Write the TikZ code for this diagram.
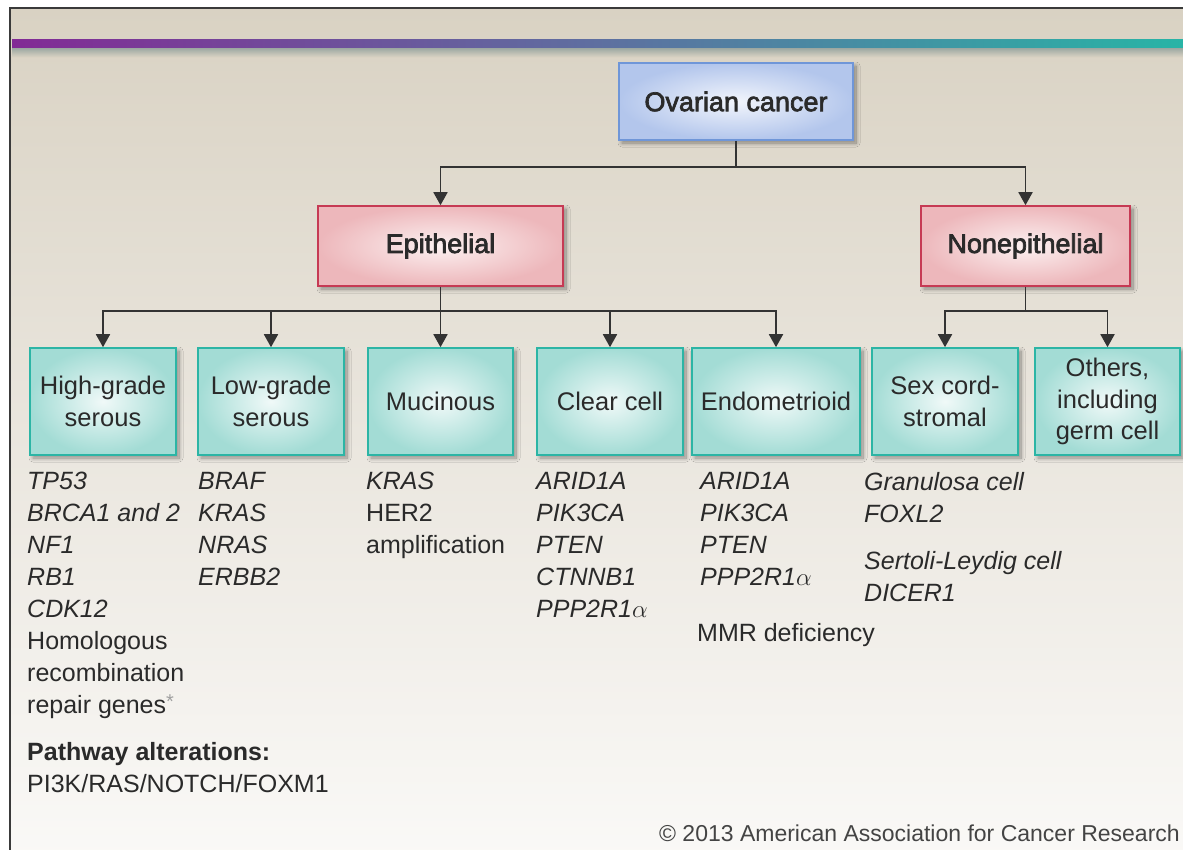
\documentclass[tikz,border=0pt]{standalone}
\usepackage{fontspec}
\setmainfont{Liberation Sans}
\newfontfamily\medfont[FakeBold=2.6]{Liberation Sans}
\usetikzlibrary{arrows.meta,shadows.blur}
\definecolor{bgtop}{HTML}{D9D2C3}
\definecolor{bgmid}{HTML}{EAE6DE}
\definecolor{bgbot}{HTML}{FAF9F7}
\definecolor{barL}{HTML}{822A95}
\definecolor{barM}{HTML}{5E6FA0}
\definecolor{barR}{HTML}{28B4A6}
\definecolor{barshadow}{HTML}{8E9E9A}
\definecolor{framec}{HTML}{3A3A3A}
\definecolor{txt}{HTML}{2A2A2A}
\definecolor{linec}{HTML}{333333}
\definecolor{bluedraw}{HTML}{6F96D8}
\definecolor{blueinner}{HTML}{F2F5FC}
\definecolor{blueouter}{HTML}{B3C6EC}
\definecolor{reddraw}{HTML}{C63A54}
\definecolor{redinner}{HTML}{FCF1F1}
\definecolor{redouter}{HTML}{EDB7BB}
\definecolor{cyandraw}{HTML}{2CB5A5}
\definecolor{cyaninner}{HTML}{F0F9F8}
\definecolor{cyanouter}{HTML}{A3DCD5}
\definecolor{copyc}{HTML}{444444}
\definecolor{asterc}{HTML}{A0A0A0}
\tikzset{
  boxbase/.style={rectangle, draw, line width=1.6pt, text=txt, align=center, inner sep=0pt,
    blur shadow={shadow xshift=3pt, shadow yshift=-3pt, shadow blur radius=4pt,
      shadow blur steps=10, shadow opacity=40}},
  bluebox/.style={boxbase, draw=bluedraw, inner color=blueinner, outer color=blueouter,
    font=\medfont\fontsize{27}{32}\selectfont},
  redbox/.style={boxbase, draw=reddraw, inner color=redinner, outer color=redouter,
    font=\medfont\fontsize{27}{32}\selectfont},
  cyanbox/.style={boxbase, draw=cyandraw, inner color=cyaninner, outer color=cyanouter,
    minimum height=107pt, font=\fontsize{25.5}{31.5}\selectfont},
  conn/.style={draw=linec, line width=1.8pt},
  arr/.style={conn, -{Triangle[width=14pt,length=13pt]}},
  genelist/.style={anchor=north west, inner sep=0pt, align=left, text=txt,
    font=\fontsize{25}{32}\selectfont},
}
\newcommand{\aster}{{\color{asterc}\raisebox{5pt}{\fontsize{20}{20}\selectfont*}}}
\begin{document}
\begin{tikzpicture}[x=1pt,y=-1pt]
\useasboundingbox (0,0) rectangle (1183,849);
\fill[white] (0,0) rectangle (1183,849);
\shade[top color=bgtop, bottom color=bgbot, middle color=bgmid] (10,8) rectangle (1190,860);
\draw[framec, line width=2pt] (10,852) -- (10,8) -- (1186,8);
% top bar
\shade[top color=barshadow, bottom color=bgtop] (12,46) rectangle (1183,57);
\shade[left color=barL, right color=barR, middle color=barM] (12,39) rectangle (1183,47);

% boxes
\node[bluebox, minimum width=234pt, minimum height=77pt] (root) at (736,101.5) {Ovarian cancer};
\node[redbox, minimum width=245pt, minimum height=80pt] (epi) at (440.5,246) {Epithelial};
\node[redbox, minimum width=209pt, minimum height=80pt] (nonepi) at (1025.5,246) {Nonepithelial};

\node[cyanbox, minimum width=146pt] (hgs) at (103,401.5) {High-grade\\serous};
\node[cyanbox, minimum width=146pt] (lgs) at (271,401.5) {Low-grade\\serous};
\node[cyanbox, minimum width=145pt] (muc) at (440.5,401.5) {Mucinous};
\node[cyanbox, minimum width=146pt] (cc) at (610,401.5) {Clear cell};
\node[cyanbox, minimum width=168pt] (endo) at (776,401.5) {Endometrioid};
\node[cyanbox, minimum width=146pt] (sex) at (945,401.5) {Sex cord-\\stromal};
\node[cyanbox, minimum width=145pt] (oth) at (1107.5,401.5) {Others,\\including\\germ cell};

% connectors
\coordinate (rj) at (736,167);
\draw[conn] (root.south) -- (rj);
\draw[arr] (rj) -| (epi.north);
\draw[arr] (rj) -| (nonepi.north);

\coordinate (ej) at (440.5,311);
\draw[conn] (epi.south) -- (ej);
\draw[arr] (ej) -| (hgs.north);
\draw[arr] (ej) -| (lgs.north);
\draw[arr] (ej) -- (muc.north);
\draw[arr] (ej) -| (cc.north);
\draw[arr] (ej) -| (endo.north);

\coordinate (nj) at (1025.5,311);
\draw[conn] (nonepi.south) -- (nj);
\draw[arr] (nj) -| (sex.north);
\draw[arr] (nj) -| (oth.north);

% gene lists
\node[genelist] (l1) at (27,472) {{\itshape TP53}\\{\itshape BRCA1 and 2}\\{\itshape NF1}\\{\itshape RB1}\\{\itshape CDK12}\\Homologous\\recombination\\repair genes\aster\\[15pt]{\bfseries Pathway alterations:}\\PI3K/RAS/NOTCH/FOXM1};
\node[genelist] (l2) at (198,472) {{\itshape BRAF}\\{\itshape KRAS}\\{\itshape NRAS}\\{\itshape ERBB2}};
\node[genelist] (l3) at (366,472) {{\itshape KRAS}\\HER2\\amplification};
\node[genelist] (l4) at (536,472) {{\itshape ARID1A}\\{\itshape PIK3CA}\\{\itshape PTEN}\\{\itshape CTNNB1}\\{\itshape PPP2R1$\alpha$}};
\node[genelist] (l5) at (700,472) {{\itshape ARID1A}\\{\itshape PIK3CA}\\{\itshape PTEN}\\{\itshape PPP2R1$\alpha$}};
\node[genelist] (l5b) at (697,623) {MMR deficiency};
\node[genelist] (l6) at (864,472) {{\itshape Granulosa cell}\\{\itshape FOXL2}\\[15pt]{\itshape Sertoli-Leydig cell}\\{\itshape DICER1}};

\node[anchor=base east, inner sep=0pt, text=copyc, font=\fontsize{23}{28}\selectfont] (copy) at (1180,841) {\textcopyright{} 2013 American Association for Cancer Research};
\end{tikzpicture}
\end{document}
